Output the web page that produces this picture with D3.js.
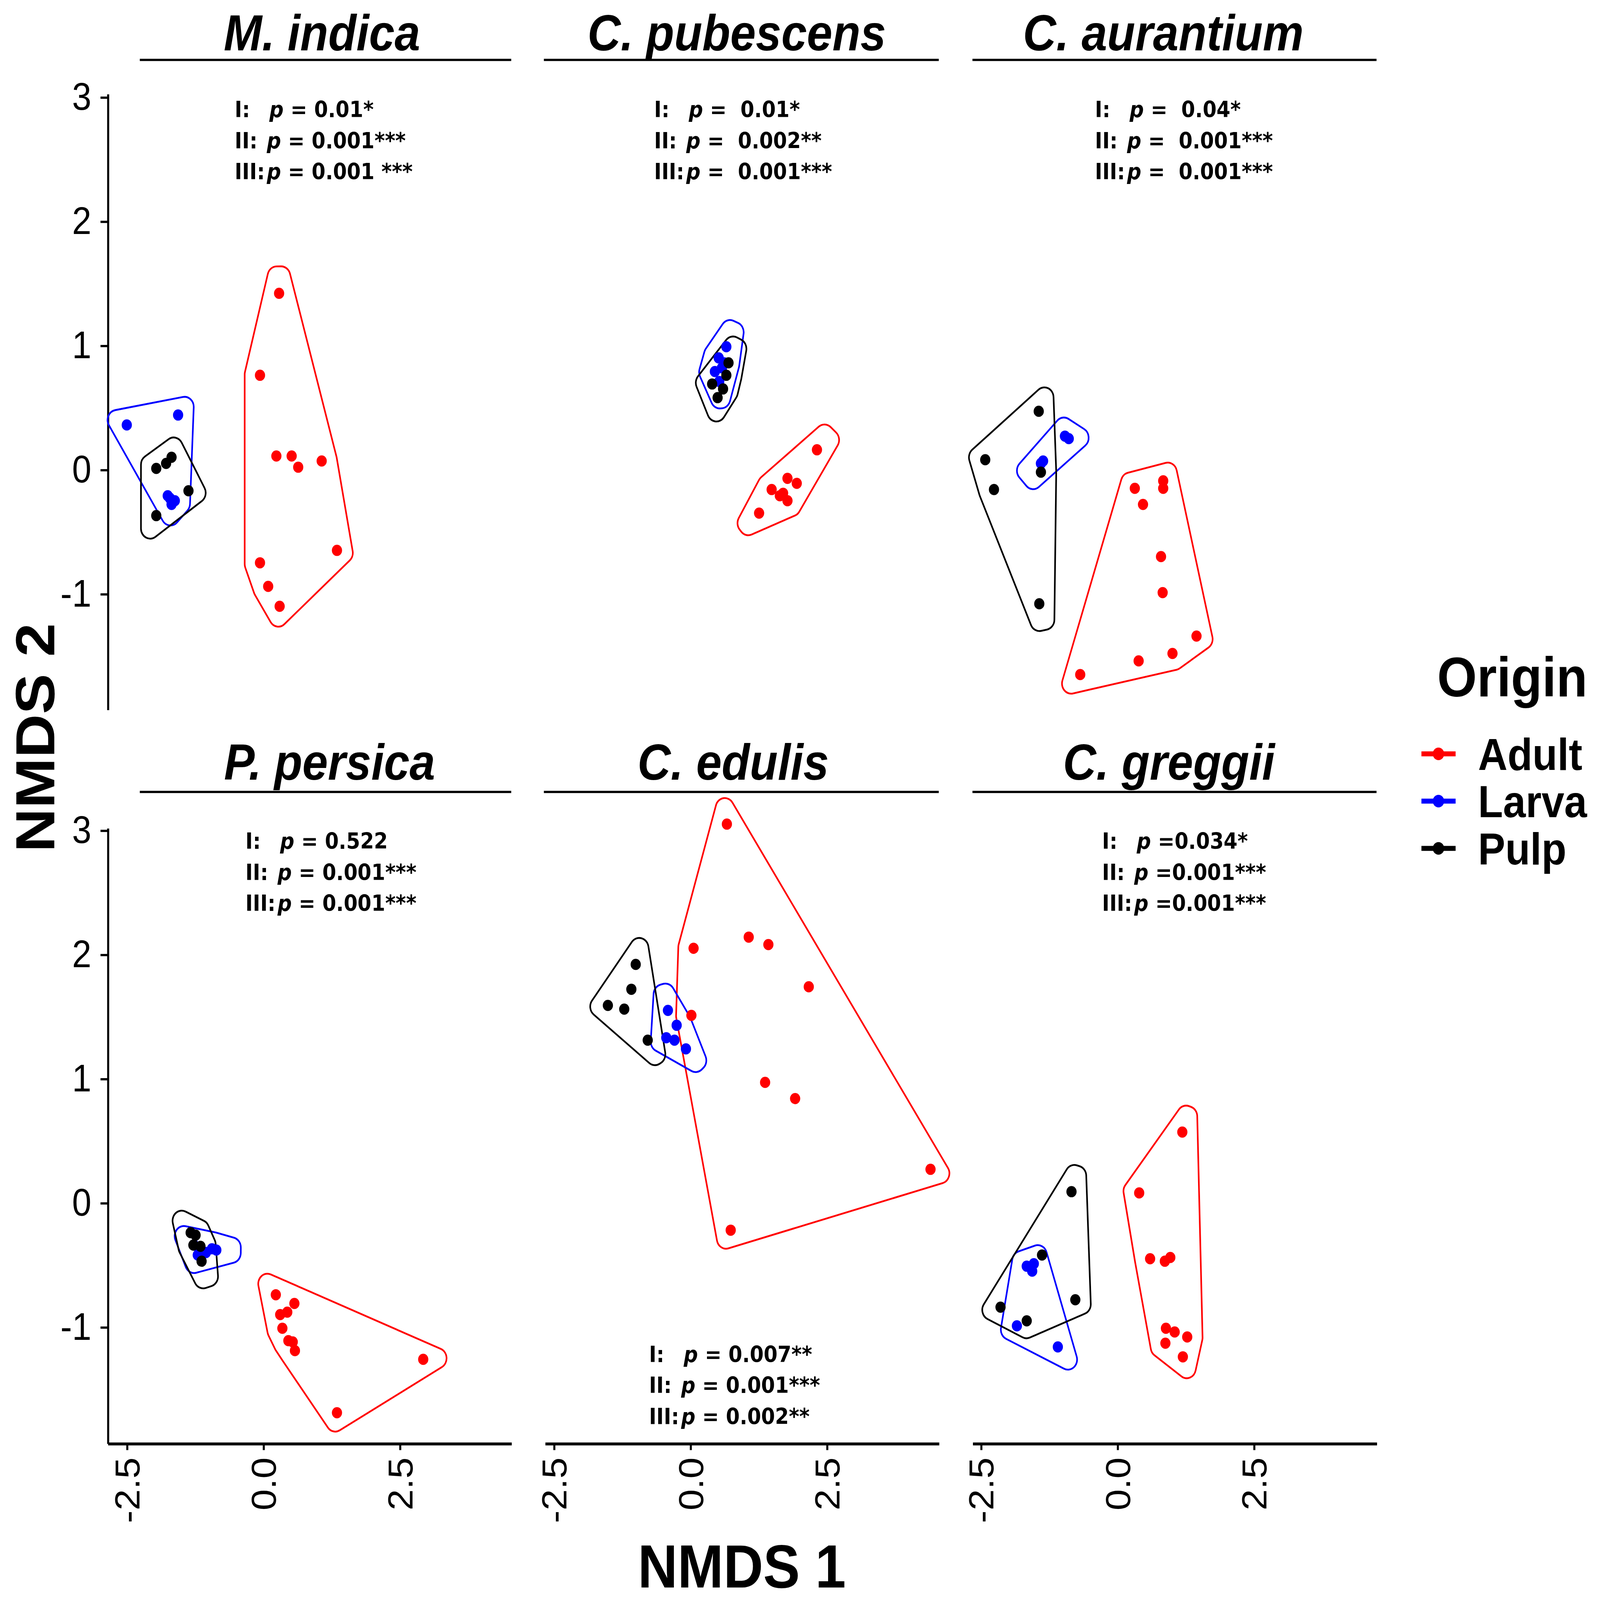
<!DOCTYPE html>
<html>
<head lang="en">
    <meta charset="UTF-8">
    <title>NMDS by host</title>
    <script src="https://cdnjs.cloudflare.com/ajax/libs/d3/7.8.5/d3.min.js"></script>
    <style>
        html, body { margin: 0; padding: 0; width: 100%; height: 100%; overflow: hidden; background: #fff; }
        svg { display: block; width: 100vw; height: 100vh; }
    </style>
</head>
<body>

<script>

    // ---- data (NMDS1, NMDS2) ----
    var panelNames = ["M. indica", "C. pubescens", "C. aurantium", "P. persica", "C. edulis", "C. greggii"];
    var origins = ["Adult", "Larva", "Pulp"];
    var originColors = ["#ff0000", "#0000ff", "#000000"];
    var xTicks = [-2.5, 0, 2.5];
    var yTicks = [-1, 0, 1, 2, 3];
    var testLabels = ["I:", "II:", "III:"];

    var indicaAdult = [[0.29, 1.42], [-0.06, 0.76], [0.24, 0.11], [0.52, 0.11], [0.64, 0.02], [1.07, 0.07], [1.35, -0.65], [-0.06, -0.75], [0.09, -0.94], [0.30, -1.10]];
    var indicaLarva = [[-2.50, 0.36], [-1.56, 0.44], [-1.75, -0.21], [-1.68, -0.28], [-1.62, -0.25], [-1.71, -0.23]];
    var indicaPulp = [[-1.96, 0.01], [-1.78, 0.05], [-1.68, 0.10], [-1.37, -0.17], [-1.96, -0.37]];

    var pubescensAdult = [[2.32, 0.16], [1.49, -0.16], [1.78, -0.07], [1.95, -0.11], [1.64, -0.21], [1.78, -0.25], [1.26, -0.35], [1.70, -0.19]];
    var pubescensLarva = [[0.66, 0.99], [0.52, 0.90], [0.58, 0.82], [0.45, 0.79], [0.62, 0.86], [0.53, 0.71]];
    var pubescensPulp = [[0.70, 0.86], [0.66, 0.76], [0.40, 0.69], [0.60, 0.65], [0.50, 0.58]];

    var aurantiumAdult = [[0.32, -0.15], [0.84, -0.09], [0.84, -0.15], [0.47, -0.28], [0.80, -0.70], [0.83, -0.99], [1.45, -1.34], [1.01, -1.48], [0.39, -1.54], [-0.68, -1.65]];
    var aurantiumLarva = [[-1.40, 0.05], [-1.36, 0.07], [-0.96, 0.27], [-0.89, 0.25]];
    var aurantiumPulp = [[-1.44, 0.47], [-2.42, 0.08], [-2.26, -0.16], [-1.40, -0.02], [-1.43, -1.08]];

    var persicaAdult = [[0.23, -0.74], [0.57, -0.81], [0.31, -0.90], [0.44, -0.88], [0.35, -1.01], [0.46, -1.11], [0.54, -1.12], [0.58, -1.19], [2.93, -1.26], [1.35, -1.69]];
    var persicaLarva = [[-1.27, -0.34], [-1.20, -0.42], [-0.94, -0.37], [-0.86, -0.38], [-1.05, -0.40]];
    var persicaPulp = [[-1.33, -0.24], [-1.24, -0.26], [-1.28, -0.34], [-1.15, -0.35], [-1.13, -0.47]];

    var edulisAdult = [[0.67, 3.05], [0.06, 2.05], [1.07, 2.14], [1.43, 2.08], [2.17, 1.74], [0.02, 1.51], [1.37, 0.97], [1.92, 0.84], [4.40, 0.27], [0.74, -0.22]];
    var edulisLarva = [[-0.41, 1.55], [-0.25, 1.43], [-0.44, 1.33], [-0.29, 1.31], [-0.08, 1.24]];
    var edulisPulp = [[-1.00, 1.92], [-1.08, 1.72], [-1.51, 1.59], [-1.21, 1.56], [-0.78, 1.31]];

    var greggiiAdult = [[1.19, 0.57], [0.40, 0.08], [0.60, -0.45], [0.87, -0.47], [0.97, -0.44], [0.89, -1.01], [1.05, -1.04], [1.28, -1.08], [0.88, -1.13], [1.20, -1.24]];
    var greggiiLarva = [[-1.66, -0.51], [-1.53, -0.49], [-1.56, -0.55], [-1.84, -0.99], [-1.09, -1.16]];
    var greggiiPulp = [[-0.84, 0.09], [-1.38, -0.42], [-0.77, -0.78], [-2.14, -0.84], [-1.66, -0.95]];

    // permutation test p values, text after the italic p
    var indicaP = [" = 0.01*", " = 0.001***", " = 0.001 ***"];
    var pubescensP = [" =  0.01*", " =  0.002**", " =  0.001***"];
    var aurantiumP = [" =  0.04*", " =  0.001***", " =  0.001***"];
    var persicaP = [" = 0.522", " = 0.001***", " = 0.001***"];
    var edulisP = [" = 0.007**", " = 0.001***", " = 0.002**"];
    var greggiiP = [" =0.034*", " =0.001***", " =0.001***"];

    var panelPoints = [
        [indicaAdult, indicaLarva, indicaPulp],
        [pubescensAdult, pubescensLarva, pubescensPulp],
        [aurantiumAdult, aurantiumLarva, aurantiumPulp],
        [persicaAdult, persicaLarva, persicaPulp],
        [edulisAdult, edulisLarva, edulisPulp],
        [greggiiAdult, greggiiLarva, greggiiPulp]
    ];
    var panelTests = [indicaP, pubescensP, aurantiumP, persicaP, edulisP, greggiiP];

    // ---- layout (viewBox units, 1568 x 1425) ----
    var cols = [
        {left: 105.5, right: 501, stripL: 137, stripR: 501, zero: 258},
        {left: 534, right: 920, stripL: 533, stripR: 920, zero: 676.5},
        {left: 953, right: 1349, stripL: 953, stripR: 1349, zero: 1095}
    ];
    var rows = [
        {top: 83.5, bottom: 632, zero: 418.3, stripY: 53.4, titleY: 45},
        {top: 737.4, bottom: 1285.5, zero: 1071.3, stripY: 705.3, titleY: 694.5}
    ];
    var unitX = 53.5, unitY = 110.6;
    var titleX = [315.5, 722, 1140, 323, 718.5, 1145.5];
    var annX = [230, 641, 1073, 240.5, 636, 1080];
    var annY = [104.4, 104.4, 104.4, 756, 1213, 756];
    var pOffset = [34, 31.5, 31.5];
    var annGap = 27.7;

    var sansFont = "'Liberation Sans', Arial, Helvetica, sans-serif";
    var annFont = "'DejaVu Sans', Verdana, sans-serif";

    // the drawing always fills the whole window, like the 4552 x 4137 original
    var svg = d3.select("body")
            .append("svg")
            .attr("viewBox", "0 0 1568 1425")
            .attr("preserveAspectRatio", "none");

    svg.append("rect").attr("width", 1568).attr("height", 1425).attr("fill", "#fff");

    // outward normals of a convex polygon's edges
    function edgeInfo(poly) {
        var k = poly.length;
        var cx = d3.mean(poly, function(p){ return p[0]; });
        var cy = d3.mean(poly, function(p){ return p[1]; });
        return poly.map(function(a, i){
            var b = poly[(i + 1) % k];
            var ex = b[0] - a[0], ey = b[1] - a[1];
            var l = Math.hypot(ex, ey) || 1;
            ex /= l; ey /= l;
            var nx = ey, ny = -ex;
            var mx = (a[0] + b[0]) / 2 - cx, my = (a[1] + b[1]) / 2 - cy;
            if (nx * mx + ny * my < 0) { nx = -nx; ny = -ny; }
            return {e: [ex, ey], n: [nx, ny]};
        });
    }

    // mitered outward offset with a miter limit (squared off beyond it)
    function offsetMiter(h, d, L) {
        var k = h.length, ed = edgeInfo(h), out = [];
        for (var i = 0; i < k; i++) {
            var v = h[i], e1 = ed[(i - 1 + k) % k], e2 = ed[i];
            var n1 = e1.n, n2 = e2.n;
            var c = n1[0] * n2[0] + n1[1] * n2[1];
            if (1 + c > 1e-9 && d * Math.sqrt(2 / (1 + c)) <= L * d) {
                var f = d / (1 + c);
                out.push([v[0] + (n1[0] + n2[0]) * f, v[1] + (n1[1] + n2[1]) * f]);
            } else {
                var bx = n1[0] + n2[0], by = n1[1] + n2[1], bl = Math.hypot(bx, by);
                if (bl < 1e-9) { bx = e1.e[0] - e2.e[0]; by = e1.e[1] - e2.e[1]; bl = Math.hypot(bx, by); }
                bx /= bl; by /= bl;
                var t = (L * d - d * (n1[0] * bx + n1[1] * by)) / (e1.e[0] * bx + e1.e[1] * by);
                var s = (L * d - d * (n2[0] * bx + n2[1] * by)) / (e2.e[0] * bx + e2.e[1] * by);
                out.push([v[0] + d * n1[0] + t * e1.e[0], v[1] + d * n1[1] + t * e1.e[1]]);
                out.push([v[0] + d * n2[0] + s * e2.e[0], v[1] + d * n2[1] + s * e2.e[1]]);
            }
        }
        return out;
    }

    // convex polygon grown by R with round corners
    function roundedPath(Q, R) {
        Q = Q.filter(function(p, i){
            var q = Q[(i + 1) % Q.length];
            return Math.hypot(p[0] - q[0], p[1] - q[1]) > 1e-6;
        });
        var k = Q.length, ed = edgeInfo(Q), p = d3.path();
        for (var i = 0; i < k; i++) {
            var a = Q[i], b = Q[(i + 1) % k];
            var n = ed[i].n, n2 = ed[(i + 1) % k].n;
            if (i === 0) p.moveTo(a[0] + n[0] * R, a[1] + n[1] * R);
            p.lineTo(b[0] + n[0] * R, b[1] + n[1] * R);
            var cross = n[0] * n2[1] - n[1] * n2[0];
            if (Math.abs(cross) > 1e-9) {
                p.arc(b[0], b[1], R, Math.atan2(n[1], n[0]), Math.atan2(n2[1], n2[0]), cross < 0);
            }
        }
        p.closePath();
        return p.toString();
    }

    // hull mark like ggforce::geom_mark_hull (expand, radius)
    function hullPath(pts) {
        var E = 15, R = 9, L = 2.5, d = E - R;
        var h = pts.length >= 3 ? d3.polygonHull(pts) : null;
        var Q;
        if (!h || Math.abs(d3.polygonArea(h)) < 1) {
            var a = pts[0], b = pts[0], best = 0;
            pts.forEach(function(p){
                pts.forEach(function(q){
                    var dd = (p[0] - q[0]) * (p[0] - q[0]) + (p[1] - q[1]) * (p[1] - q[1]);
                    if (dd > best) { best = dd; a = p; b = q; }
                });
            });
            var len = Math.sqrt(best);
            if (len < 1e-6) {
                var c = d3.path();
                c.arc(a[0], a[1], E, 0, 2 * Math.PI);
                return c.toString();
            }
            var u = [(b[0] - a[0]) / len, (b[1] - a[1]) / len], w = [-u[1], u[0]];
            Q = [
                [a[0] - u[0] * L * d + w[0] * d, a[1] - u[1] * L * d + w[1] * d],
                [b[0] + u[0] * L * d + w[0] * d, b[1] + u[1] * L * d + w[1] * d],
                [b[0] + u[0] * L * d - w[0] * d, b[1] + u[1] * L * d - w[1] * d],
                [a[0] - u[0] * L * d - w[0] * d, a[1] - u[1] * L * d - w[1] * d]
            ];
        } else {
            Q = offsetMiter(h, d, L);
        }
        return roundedPath(Q, R);
    }

    panelNames.forEach(function(name, i){
        var c = cols[i % 3], r = rows[Math.floor(i / 3)];

        var x = d3.scaleLinear()
                .domain([(c.left - c.zero) / unitX, (c.right - c.zero) / unitX])
                .range([c.left, c.right]);
        var y = d3.scaleLinear()
                .domain([(r.zero - r.bottom) / unitY, (r.zero - r.top) / unitY])
                .range([r.bottom, r.top]);

        var g = svg.append("g");

        // strip
        g.append("line")
                .attr("x1", c.stripL).attr("x2", c.stripR)
                .attr("y1", r.stripY).attr("y2", r.stripY)
                .attr("stroke", "#000").attr("stroke-width", 2);
        g.append("text")
                .attr("x", titleX[i]).attr("y", r.titleY)
                .attr("text-anchor", "middle")
                .attr("font-family", sansFont)
                .attr("font-size", 45)
                .attr("font-weight", "bold")
                .attr("font-style", "italic")
                .text(name);

        // y axis on the first column
        if (i % 3 === 0) {
            var gy = g.append("g")
                    .attr("transform", "translate(" + c.left + ",0)")
                    .call(d3.axisLeft(y).tickValues(yTicks).tickSize(7).tickSizeOuter(0).tickPadding(9)
                            .tickFormat(function(v){ return String(v); }));
            gy.attr("font-size", 34).attr("font-family", sansFont);
            gy.select(".domain").attr("stroke-width", 2);
            gy.selectAll(".tick line").attr("stroke-width", 2);
        }

        // x axis on the bottom row
        if (i >= 3) {
            var gx = g.append("g")
                    .attr("transform", "translate(0," + r.bottom + ")")
                    .call(d3.axisBottom(x).tickValues(xTicks).tickSize(6).tickSizeOuter(0)
                            .tickFormat(function(v){ return v.toFixed(1); }));
            gx.attr("font-size", 34).attr("font-family", sansFont);
            gx.select(".domain").attr("stroke-width", 2.6);
            gx.selectAll(".tick line").attr("stroke-width", 2);
            gx.selectAll("text")
                    .attr("transform", "rotate(-90)")
                    .attr("x", -12.5)
                    .attr("y", 0)
                    .attr("dy", "0.35em")
                    .attr("text-anchor", "end");
        }

        // hulls
        panelPoints[i].forEach(function(pts, k){
            g.append("path")
                    .attr("d", hullPath(pts.map(function(d){ return [x(d[0]), y(d[1])]; })))
                    .attr("fill", "none")
                    .attr("stroke", originColors[k])
                    .attr("stroke-width", 1.6)
                    .attr("stroke-linejoin", "round");
        });

        // points
        panelPoints[i].forEach(function(pts, k){
            g.selectAll("circle.o" + k)
                    .data(pts)
                    .enter()
                    .append("circle")
                    .attr("class", "o" + k)
                    .attr("cx", function(d){ return x(d[0]); })
                    .attr("cy", function(d){ return y(d[1]); })
                    .attr("r", 5)
                    .attr("fill", originColors[k]);
        });

        // test results
        panelTests[i].forEach(function(txt, j){
            var t = g.append("text")
                    .attr("y", annY[i] + j * annGap)
                    .attr("font-family", annFont)
                    .attr("font-size", 19.5)
                    .attr("font-weight", "bold")
                    .style("white-space", "pre");
            t.append("tspan").attr("x", annX[i]).text(testLabels[j]);
            t.append("tspan").attr("x", annX[i] + pOffset[j]).attr("font-style", "italic").text("p");
            t.append("tspan").text(txt);
        });
    });

    // axis titles
    svg.append("text")
            .attr("x", 727).attr("y", 1414)
            .attr("text-anchor", "middle")
            .attr("font-family", sansFont)
            .attr("font-size", 54)
            .attr("font-weight", "bold")
            .text("NMDS 1");

    svg.append("text")
            .attr("transform", "translate(53.4,657) rotate(-90)")
            .attr("text-anchor", "middle")
            .attr("font-family", sansFont)
            .attr("font-size", 54)
            .attr("font-weight", "bold")
            .text("NMDS 2");

    // legend
    var legend = svg.append("g");
    legend.append("text")
            .attr("x", 1408.5).attr("y", 620.4)
            .attr("font-family", sansFont)
            .attr("font-size", 50)
            .attr("font-weight", "bold")
            .text("Origin");

    var item = legend.selectAll("g.item")
            .data(origins)
            .enter()
            .append("g")
            .attr("class", "item")
            .attr("transform", function(d, k){ return "translate(0," + (671.4 + k * 42.1) + ")"; });

    item.append("line")
            .attr("x1", 1393).attr("x2", 1426.5)
            .attr("stroke", function(d, k){ return originColors[k]; })
            .attr("stroke-width", 4.5);
    item.append("circle")
            .attr("cx", 1409.7).attr("r", 5.6)
            .attr("fill", function(d, k){ return originColors[k]; });
    item.append("text")
            .attr("x", 1448.5).attr("y", 14.3)
            .attr("font-family", sansFont)
            .attr("font-size", 40)
            .attr("font-weight", "bold")
            .text(function(d){ return d; });

</script>

</body>
</html>
